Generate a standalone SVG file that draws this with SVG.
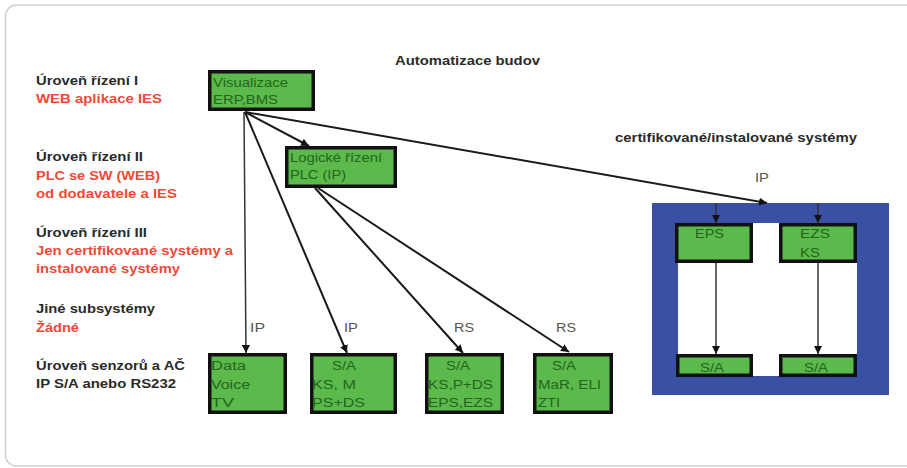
<svg xmlns="http://www.w3.org/2000/svg" width="907" height="468" viewBox="0 0 907 468">
<defs>
<marker id="ah" viewBox="0 0 10 10" refX="10" refY="5" markerWidth="8" markerHeight="8" markerUnits="userSpaceOnUse" orient="auto"><path d="M0,0 L10,5 L0,10 z" fill="#111"/></marker>
<style>
.lbl{font-family:"Liberation Sans",Arial,sans-serif;font-size:12px;font-weight:bold;fill:#2a2a2a}
.red{fill:#ef4a37}
.bx{fill:#5cb94b;stroke:#111;stroke-width:3.5}
.bt{font-family:"Liberation Sans",Arial,sans-serif;font-size:12px;fill:#22661c}
.cl{font-family:"Liberation Sans",Arial,sans-serif;font-size:12px;fill:#5a5550}
.ln{stroke:#1a1a1a;stroke-width:2;fill:none;marker-end:url(#ah)}
.lt{stroke:#333;stroke-width:1.5;fill:none;marker-end:url(#ah)}
</style>
</defs>
<rect x="0" y="0" width="907" height="468" fill="#fff"/>
<rect x="5.5" y="5" width="930" height="461" rx="11" fill="#fff" stroke="#cfcfcf" stroke-width="1.5"/>

<text class="lbl" x="395" y="65" textLength="145" lengthAdjust="spacingAndGlyphs">Automatizace budov</text>
<text class="lbl" x="615" y="142" textLength="242" lengthAdjust="spacingAndGlyphs">certifikované/instalované systémy</text>

<g id="levels">
<text class="lbl" x="36" y="85" textLength="102" lengthAdjust="spacingAndGlyphs">Úroveň řízení I</text>
<text class="lbl red" x="36" y="103" textLength="126" lengthAdjust="spacingAndGlyphs">WEB aplikace IES</text>
<text class="lbl" x="36" y="161" textLength="107" lengthAdjust="spacingAndGlyphs">Úroveň řízení II</text>
<text class="lbl red" x="36" y="180" textLength="124" lengthAdjust="spacingAndGlyphs">PLC se SW (WEB)</text>
<text class="lbl red" x="36" y="198" textLength="141" lengthAdjust="spacingAndGlyphs">od dodavatele a IES</text>
<text class="lbl" x="36" y="237" textLength="111" lengthAdjust="spacingAndGlyphs">Úroveň řízení III</text>
<text class="lbl red" x="36" y="255" textLength="197" lengthAdjust="spacingAndGlyphs">Jen certifikované systémy a</text>
<text class="lbl red" x="36" y="273" textLength="144" lengthAdjust="spacingAndGlyphs">instalované systémy</text>
<text class="lbl" x="36" y="313" textLength="119" lengthAdjust="spacingAndGlyphs">Jiné subsystémy</text>
<text class="lbl red" x="36" y="332" textLength="43" lengthAdjust="spacingAndGlyphs">Žádné</text>
<text class="lbl" x="36" y="370" textLength="149" lengthAdjust="spacingAndGlyphs">Úroveň senzorů a AČ</text>
<text class="lbl" x="36" y="388" textLength="140" lengthAdjust="spacingAndGlyphs">IP S/A anebo RS232</text>
</g>

<g id="frame">
<path d="M652,203 H889 V395 H652 Z M678,223 V376 H857 V223 Z" fill="#3a50a4" fill-rule="evenodd"/>
</g>

<g id="connectors">
<line class="lt" x1="244" y1="112" x2="246" y2="353"/>
<line class="ln" x1="245" y1="112" x2="347" y2="353"/>
<line class="ln" x1="245" y1="112" x2="309" y2="146"/>
<line class="ln" x1="245" y1="112" x2="767" y2="203"/>
<line class="ln" x1="315" y1="188" x2="463" y2="353"/>
<line class="ln" x1="318" y1="188" x2="569" y2="352"/>
<line class="lt" x1="716" y1="203" x2="716" y2="223"/>
<line class="lt" x1="818" y1="203" x2="818" y2="223"/>
<line class="lt" x1="716" y1="263" x2="716" y2="354"/>
<line class="lt" x1="818" y1="263" x2="818" y2="354"/>
<text class="cl" x="250" y="332" textLength="15" lengthAdjust="spacingAndGlyphs">IP</text>
<text class="cl" x="344" y="332" textLength="14" lengthAdjust="spacingAndGlyphs">IP</text>
<text class="cl" x="454" y="332" textLength="20" lengthAdjust="spacingAndGlyphs">RS</text>
<text class="cl" x="556" y="332" textLength="20" lengthAdjust="spacingAndGlyphs">RS</text>
<text class="cl" x="755" y="182" textLength="14" lengthAdjust="spacingAndGlyphs">IP</text>
</g>

<g id="vis">
<rect class="bx" x="209.75" y="71.75" width="103.5" height="37.5"/>
<text class="bt" x="213" y="87" textLength="75" lengthAdjust="spacingAndGlyphs">Visualizace</text>
<text class="bt" x="213" y="104" textLength="65" lengthAdjust="spacingAndGlyphs">ERP,BMS</text>
</g>
<g id="plc">
<rect class="bx" x="286.75" y="147.75" width="108.5" height="38.5"/>
<text class="bt" x="290" y="162" textLength="92" lengthAdjust="spacingAndGlyphs">Logické řízení</text>
<text class="bt" x="290" y="179" textLength="56" lengthAdjust="spacingAndGlyphs">PLC (IP)</text>
</g>
<g id="data">
<rect class="bx" x="209.75" y="354.75" width="75.5" height="57.5"/>
<text class="bt" x="211" y="370" textLength="35" lengthAdjust="spacingAndGlyphs">Data</text>
<text class="bt" x="211" y="389" textLength="39" lengthAdjust="spacingAndGlyphs">Voice</text>
<text class="bt" x="211" y="407" textLength="23" lengthAdjust="spacingAndGlyphs">TV</text>
</g>
<g id="sa2">
<rect class="bx" x="311.75" y="354.75" width="83.5" height="57.5"/>
<text class="bt" x="332" y="370" textLength="24" lengthAdjust="spacingAndGlyphs">S/A</text>
<text class="bt" x="312" y="389" textLength="44" lengthAdjust="spacingAndGlyphs">KS, M</text>
<text class="bt" x="312" y="407" textLength="53" lengthAdjust="spacingAndGlyphs">PS+DS</text>
</g>
<g id="sa3">
<rect class="bx" x="426.75" y="354.75" width="75.5" height="57.5"/>
<text class="bt" x="446" y="370" textLength="24" lengthAdjust="spacingAndGlyphs">S/A</text>
<text class="bt" x="428" y="389" textLength="65" lengthAdjust="spacingAndGlyphs">KS,P+DS</text>
<text class="bt" x="428" y="407" textLength="65" lengthAdjust="spacingAndGlyphs">EPS,EZS</text>
</g>
<g id="sa4">
<rect class="bx" x="534.75" y="354.75" width="76.5" height="57.5"/>
<text class="bt" x="552" y="370" textLength="24" lengthAdjust="spacingAndGlyphs">S/A</text>
<text class="bt" x="538" y="389" textLength="63" lengthAdjust="spacingAndGlyphs">MaR, ELI</text>
<text class="bt" x="538" y="407" textLength="22" lengthAdjust="spacingAndGlyphs">ZTI</text>
</g>
<g id="eps">
<rect class="bx" x="676.75" y="224.75" width="74.5" height="36.5"/>
<text class="bt" x="695" y="238" textLength="29" lengthAdjust="spacingAndGlyphs">EPS</text>
</g>
<g id="ezs">
<rect class="bx" x="780.75" y="224.75" width="74.5" height="36.5"/>
<text class="bt" x="800" y="238" textLength="30" lengthAdjust="spacingAndGlyphs">EZS</text>
<text class="bt" x="800" y="257" textLength="20" lengthAdjust="spacingAndGlyphs">KS</text>
</g>
<g id="sa-eps">
<rect class="bx" x="677.75" y="355.75" width="73.5" height="19.5"/>
<text class="bt" x="700" y="372" textLength="24" lengthAdjust="spacingAndGlyphs">S/A</text>
</g>
<g id="sa-ezs">
<rect class="bx" x="780.75" y="355.75" width="74.5" height="19.5"/>
<text class="bt" x="804" y="372" textLength="24" lengthAdjust="spacingAndGlyphs">S/A</text>
</g>
</svg>
